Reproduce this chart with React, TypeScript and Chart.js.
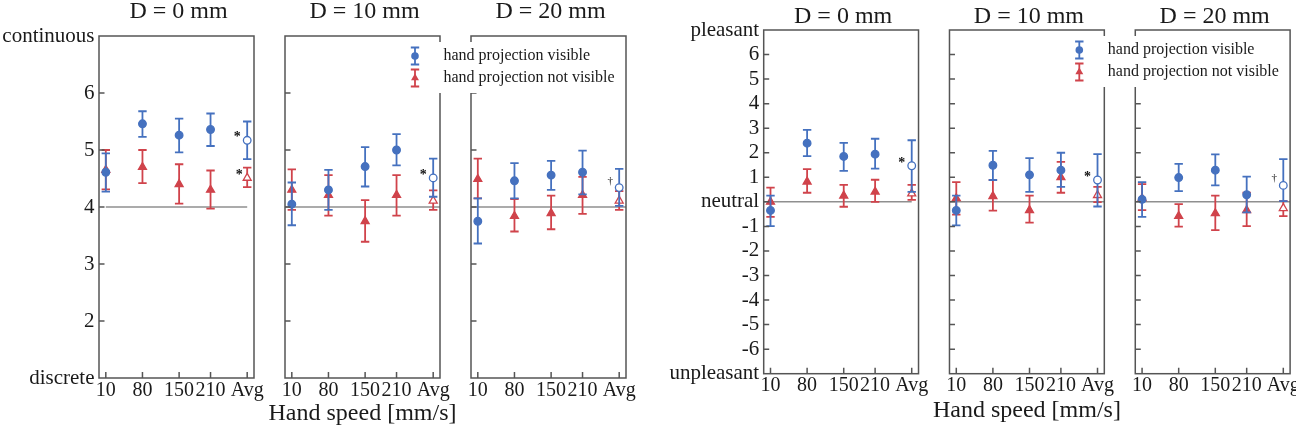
import React, { useEffect, useRef } from 'react';
import { Chart, registerables } from 'chart.js';

Chart.register(...registerables);

const FONT = '"Liberation Serif", "Times New Roman", serif';
const BLUE = '#4571bf';
const RED = '#d0434b';
const BOX = '#555555';
const REF = '#8f8f8f';
const TEXT = '#1a1a1a';

// ---------- shared categories ----------
const speedLabels = ['10', '80', '150', '210', 'Avg'];
const speedValues = [10, 80, 150, 210, 280];
const panelTitles = ['D = 0 mm', 'D = 10 mm', 'D = 20 mm'];
const seriesLabels = ['hand projection visible', 'hand projection not visible'];
const xAxisTitle = 'Hand speed [mm/s]';

// x extent of one panel and the gap between panels (data units)
const PANEL_MIN = -3;
const PANEL_MAX = 293;
const PANEL_GAP = 59.2;
const PANEL_SPAN = PANEL_MAX - PANEL_MIN;
const PANEL_STEP = PANEL_SPAN + PANEL_GAP;
const X_MIN = PANEL_MIN;
const X_MAX = PANEL_MIN + 2 * PANEL_STEP + PANEL_SPAN;

// ---------- continuity (left group), one row per D ----------
const contVisibleMean = [
  [4.61, 5.46, 5.26, 5.36, 5.17],
  [4.05, 4.30, 4.71, 5.00, 4.51],
  [3.75, 4.46, 4.56, 4.61, 4.34],
];
const contVisibleLow = [
  [4.27, 5.23, 4.96, 5.07, 4.84],
  [3.68, 3.95, 4.36, 4.73, 4.18],
  [3.36, 4.15, 4.30, 4.22, 4.02],
];
const contVisibleHigh = [
  [4.94, 5.68, 5.55, 5.64, 5.50],
  [4.43, 4.65, 5.05, 5.28, 4.85],
  [4.15, 4.77, 4.81, 4.99, 4.67],
];
const contHiddenMean = [
  [4.65, 4.70, 4.40, 4.30, 4.51],
  [4.30, 4.21, 3.75, 4.21, 4.11],
  [4.49, 3.84, 3.89, 4.21, 4.11],
];
const contHiddenLow = [
  [4.31, 4.42, 4.06, 3.97, 4.35],
  [3.95, 3.85, 3.39, 3.85, 3.95],
  [4.15, 3.57, 3.61, 3.88, 3.95],
];
const contHiddenHigh = [
  [5.00, 5.00, 4.75, 4.64, 4.69],
  [4.66, 4.56, 4.12, 4.56, 4.29],
  [4.85, 4.14, 4.20, 4.53, 4.28],
];
const contMarksVisible = ['*', '*', '†'];
const contMarksHidden = ['*', '', ''];
const contTickValues = [1, 2, 3, 4, 5, 6, 7];
const contTickLabels = ['discrete', '2', '3', '4', '5', '6', 'continuous'];
const contReference = 4;
const contRefStart = [10, -3, -3];
const contRefEnd = [280, 293, 293];

// ---------- pleasantness (right group) ----------
const plsVisibleMean = [
  [-0.35, 2.39, 1.85, 1.94, 1.47],
  [-0.35, 1.49, 1.10, 1.29, 0.89],
  [0.10, 0.99, 1.29, 0.29, 0.67],
];
const plsVisibleLow = [
  [-0.99, 1.86, 1.26, 1.35, 0.41],
  [-0.96, 0.89, 0.41, 0.61, -0.19],
  [-0.61, 0.44, 0.67, -0.43, 0.03],
];
const plsVisibleHigh = [
  [0.25, 2.93, 2.40, 2.57, 2.51],
  [0.25, 2.08, 1.78, 2.00, 1.94],
  [0.80, 1.55, 1.93, 1.03, 1.74],
];
const plsHiddenMean = [
  [0.00, 0.82, 0.25, 0.41, 0.34],
  [0.14, 0.23, -0.34, 1.00, 0.27],
  [0.14, -0.58, -0.47, -0.34, -0.26],
];
const plsHiddenLow = [
  [-0.61, 0.37, -0.20, 0.00, 0.08],
  [-0.52, -0.36, -0.85, 0.37, -0.01],
  [-0.34, -1.01, -1.15, -0.99, -0.58],
];
const plsHiddenHigh = [
  [0.58, 1.33, 0.69, 0.90, 0.69],
  [0.80, 0.89, 0.25, 1.63, 0.61],
  [0.72, -0.09, 0.25, 0.37, 0.03],
];
const plsMarksVisible = ['*', '*', '†'];
const plsMarksHidden = ['', '', ''];
const plsTickValues = [-7, -6, -5, -4, -3, -2, -1, 0, 1, 2, 3, 4, 5, 6, 7];
const plsTickLabels = ['unpleasant', '-6', '-5', '-4', '-3', '-2', '-1', 'neutral', '1', '2', '3', '4', '5', '6', 'pleasant'];
const plsReference = 0;
const plsRefStart = [-3, -3, -3];
const plsRefEnd = [280, 293, 293];

// ---------- group layouts ----------
type Group = {
  canvasLeft: number; canvasWidth: number;
  padTop: number; padRight: number; yAxisWidth: number; xAxisHeight: number;
  titleBaseline: number; xTitlePad: number;
  yMin: number; yMax: number; yTicks: number[]; yLabels: string[];
  ref: number; refStart: number[]; refEnd: number[];
  visMean: number[][]; visLow: number[][]; visHigh: number[][];
  hidMean: number[][]; hidLow: number[][]; hidHigh: number[][];
  marksVis: string[]; marksHid: string[];
};

const continuityGroup: Group = {
  canvasLeft: 0, canvasWidth: 640,
  padTop: 36, padRight: 14, yAxisWidth: 99, xAxisHeight: 63,
  titleBaseline: 18.3, xTitlePad: 12.9,
  yMin: 1, yMax: 7, yTicks: contTickValues, yLabels: contTickLabels,
  ref: contReference, refStart: contRefStart, refEnd: contRefEnd,
  visMean: contVisibleMean, visLow: contVisibleLow, visHigh: contVisibleHigh,
  hidMean: contHiddenMean, hidLow: contHiddenLow, hidHigh: contHiddenHigh,
  marksVis: contMarksVisible, marksHid: contMarksHidden,
};

const pleasantGroup: Group = {
  canvasLeft: 640, canvasWidth: 656,
  padTop: 30, padRight: 2.7, yAxisWidth: 123.7, xAxisHeight: 67.3,
  titleBaseline: 22.7, xTitlePad: 16.3,
  yMin: -7, yMax: 7, yTicks: plsTickValues, yLabels: plsTickLabels,
  ref: plsReference, refStart: plsRefStart, refEnd: plsRefEnd,
  visMean: plsVisibleMean, visLow: plsVisibleLow, visHigh: plsVisibleHigh,
  hidMean: plsHiddenMean, hidLow: plsHiddenLow, hidHigh: plsHiddenHigh,
  marksVis: plsMarksVisible, marksHid: plsMarksHidden,
};

const xTickValues = [0, 1, 2].flatMap((p) => speedValues.map((v) => v + p * PANEL_STEP));

function pointSet(mean: number[], low: number[], high: number[], off: number, color: string, style: string, r: number, order: number, label: string) {
  return {
    type: 'scatter',
    label,
    data: mean.map((v, i) => ({ x: speedValues[i] + off, y: v })),
    errLow: low,
    errHigh: high,
    errColor: color,
    pointStyle: style,
    pointRadius: r,
    pointHoverRadius: r,
    pointBackgroundColor: mean.map((_, i) => (speedLabels[i] === 'Avg' ? '#ffffff' : color)),
    pointBorderColor: color,
    pointBorderWidth: 1.3,
    showLine: false,
    order,
  };
}

function drawTriangle(ctx: CanvasRenderingContext2D, x: number, y: number, r: number) {
  ctx.beginPath();
  ctx.moveTo(x, y - r);
  ctx.lineTo(x + r * 0.866, y + r / 2);
  ctx.lineTo(x - r * 0.866, y + r / 2);
  ctx.closePath();
}

function drawErrBar(ctx: CanvasRenderingContext2D, x: number, y1: number, y2: number, color: string) {
  ctx.save();
  ctx.strokeStyle = color;
  ctx.lineWidth = 1.8;
  ctx.beginPath();
  ctx.moveTo(x, y1); ctx.lineTo(x, y2);
  ctx.moveTo(x - 4.2, y1); ctx.lineTo(x + 4.2, y1);
  ctx.moveTo(x - 4.2, y2); ctx.lineTo(x + 4.2, y2);
  ctx.stroke();
  ctx.restore();
}

function buildConfig(g: Group): any {
  const datasets: any[] = [];
  for (let p = 0; p < 3; p++) {
    const off = p * PANEL_STEP;
    datasets.push({
      type: 'line',
      label: 'reference',
      data: [{ x: g.refStart[p] + off, y: g.ref }, { x: g.refEnd[p] + off, y: g.ref }],
      borderColor: REF,
      borderWidth: 1.5,
      pointRadius: 0,
      order: 3,
    });
    datasets.push(pointSet(g.hidMean[p], g.hidLow[p], g.hidHigh[p], off, RED, 'triangle', 4.6, 2, seriesLabels[1]));
    datasets.push(pointSet(g.visMean[p], g.visLow[p], g.visHigh[p], off, BLUE, 'circle', 3.8, 1, seriesLabels[0]));
  }

  const errorBars = {
    id: 'errorBars',
    beforeDatasetDraw(chart: any, args: any) {
      const ds = chart.data.datasets[args.index];
      if (!ds.errLow) return;
      const ys = chart.scales.y;
      args.meta.data.forEach((pt: any, i: number) => {
        drawErrBar(chart.ctx, pt.x, ys.getPixelForValue(ds.errLow[i]), ys.getPixelForValue(ds.errHigh[i]), ds.errColor);
      });
    },
  };

  const frames = {
    id: 'frames',
    afterDatasetsDraw(chart: any) {
      const { ctx, chartArea } = chart;
      const xs = chart.scales.x;
      const ys = chart.scales.y;
      ctx.save();
      ctx.strokeStyle = BOX;
      ctx.lineWidth = 1.5;
      for (let p = 0; p < 3; p++) {
        const off = p * PANEL_STEP;
        const xl = xs.getPixelForValue(PANEL_MIN + off);
        const xr = xs.getPixelForValue(PANEL_MAX + off);
        ctx.strokeRect(xl, chartArea.top, xr - xl, chartArea.bottom - chartArea.top);
        ctx.beginPath();
        g.yTicks.forEach((t, i) => {
          if (i === 0 || i === g.yTicks.length - 1) return;
          const y = ys.getPixelForValue(t);
          ctx.moveTo(xl, y); ctx.lineTo(xl + 5.5, y);
        });
        speedValues.forEach((s) => {
          const x = xs.getPixelForValue(s + off);
          ctx.moveTo(x, chartArea.bottom); ctx.lineTo(x, chartArea.bottom - 6);
        });
        ctx.stroke();
      }
      // significance marks next to the averages
      for (let p = 0; p < 3; p++) {
        const off = p * PANEL_STEP;
        const ax = xs.getPixelForValue(speedValues[4] + off);
        const pairs: [string, number, number][] = [
          [g.marksVis[p], ys.getPixelForValue(g.visMean[p][4]), -10],
          [g.marksHid[p], ys.getPixelForValue(g.hidMean[p][4]), -8],
        ];
        pairs.forEach(([m, ay, dx]) => {
          if (!m) return;
          ctx.fillStyle = '#111';
          ctx.textAlign = 'center';
          ctx.textBaseline = 'alphabetic';
          if (m === '*') {
            ctx.font = `bold 14px ${FONT}`;
            ctx.fillText(m, ax + dx, ay - 6 + 7);
          } else {
            ctx.font = `11px ${FONT}`;
            ctx.fillText(m, ax + dx + 1, ay - 7 + 3);
          }
        });
      }
      ctx.restore();
    },
    afterDraw(chart: any) {
      const { ctx, chartArea } = chart;
      const xs = chart.scales.x;
      ctx.save();
      // panel titles
      ctx.fillStyle = TEXT;
      ctx.font = `24px ${FONT}`;
      ctx.textAlign = 'center';
      ctx.textBaseline = 'alphabetic';
      for (let p = 0; p < 3; p++) {
        const off = p * PANEL_STEP;
        const xl = xs.getPixelForValue(PANEL_MIN + off);
        const xr = xs.getPixelForValue(PANEL_MAX + off);
        ctx.fillText(panelTitles[p], (xl + xr) / 2 + 2, g.titleBaseline);
      }
      // legend
      const xr2 = xs.getPixelForValue(PANEL_MAX + PANEL_STEP);
      const top = chartArea.top;
      ctx.fillStyle = '#ffffff';
      ctx.fillRect(xr2 - 42, top + 6, 216, 51);
      const colors = [BLUE, RED];
      for (let r = 0; r < 2; r++) {
        const cy = top + 20 + r * 22;
        const mx = xr2 - 25;
        drawErrBar(ctx, mx, cy - 8.5, cy + 8.5, colors[r]);
        ctx.fillStyle = colors[r];
        if (r === 0) {
          ctx.beginPath();
          ctx.arc(mx, cy, 3.8, 0, Math.PI * 2);
        } else {
          drawTriangle(ctx, mx, cy, 4.6);
        }
        ctx.fill();
        ctx.fillStyle = TEXT;
        ctx.font = `16px ${FONT}`;
        ctx.textAlign = 'left';
        ctx.textBaseline = 'middle';
        ctx.fillText(seriesLabels[r], xr2 + 3.5, cy);
      }
      ctx.restore();
    },
  };

  return {
    type: 'scatter',
    data: { datasets },
    plugins: [errorBars, frames],
    options: {
      animation: false,
      responsive: false,
      events: [],
      layout: { padding: { top: g.padTop, right: g.padRight, left: 0, bottom: 0 } },
      plugins: {
        legend: { display: false },
        tooltip: { enabled: false },
        title: { display: false },
      },
      scales: {
        x: {
          type: 'linear',
          min: X_MIN,
          max: X_MAX,
          afterBuildTicks: (scale: any) => {
            scale.ticks = xTickValues.map((v) => ({ value: v }));
          },
          afterFit: (scale: any) => {
            scale.height = g.xAxisHeight;
            scale.paddingLeft = 0;
            scale.paddingRight = 0;
          },
          ticks: {
            autoSkip: false,
            maxRotation: 0,
            minRotation: 0,
            padding: 0.5,
            color: TEXT,
            font: { family: FONT, size: 20, lineHeight: 1.2 },
            callback: (value: number) => {
              const idx = xTickValues.findIndex((t) => Math.abs(t - value) < 1e-6);
              return idx >= 0 ? speedLabels[idx % speedLabels.length] : '';
            },
          },
          grid: { display: false, drawTicks: false },
          border: { display: false },
          title: {
            display: true,
            text: xAxisTitle,
            color: TEXT,
            font: { family: FONT, size: 24, lineHeight: 1.2 },
            padding: { top: 0, bottom: g.xTitlePad },
          },
        },
        y: {
          type: 'linear',
          min: g.yMin,
          max: g.yMax,
          afterBuildTicks: (scale: any) => {
            scale.ticks = g.yTicks.map((v) => ({ value: v }));
          },
          afterFit: (scale: any) => {
            scale.width = g.yAxisWidth;
            scale.paddingTop = 0;
            scale.paddingBottom = 0;
          },
          ticks: {
            autoSkip: false,
            padding: 4.5,
            color: TEXT,
            font: { family: FONT, size: 21, lineHeight: 1.2 },
            callback: (value: number) => {
              const idx = g.yTicks.findIndex((t) => Math.abs(t - value) < 1e-6);
              return idx >= 0 ? g.yLabels[idx] : '';
            },
          },
          grid: { display: false, drawTicks: false },
          border: { display: false },
        },
      },
    },
  };
}

function GroupChart({ group }: { group: Group }) {
  const ref = useRef<HTMLCanvasElement | null>(null);
  useEffect(() => {
    if (!ref.current) return;
    const chart = new Chart(ref.current, buildConfig(group));
    return () => chart.destroy();
  }, [group]);
  return (
    <canvas
      ref={ref}
      width={group.canvasWidth}
      height={441}
      style={{ position: 'absolute', left: group.canvasLeft, top: 0, width: group.canvasWidth, height: 441 }}
    />
  );
}

export default function App() {
  return (
    <div style={{ position: 'absolute', left: 0, top: 0, width: 1296, height: 441, overflow: 'hidden', background: '#ffffff' }}>
      <GroupChart group={continuityGroup} />
      <GroupChart group={pleasantGroup} />
    </div>
  );
}
